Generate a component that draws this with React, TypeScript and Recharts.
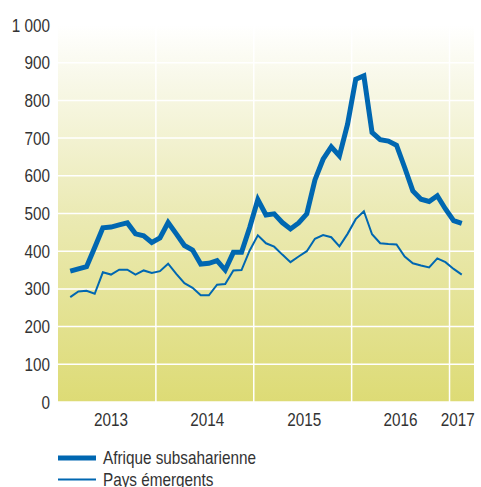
import React from "react"
import {
  LineChart,
  Line,
  XAxis,
  YAxis,
  CartesianGrid,
} from "recharts"

// monthly points, Feb 2013 -> Feb 2017 (month index from Jan 2013)
const monthIndex = [
  1, 2, 3, 4, 5, 6, 7, 8, 9, 10, 11, 12, 13, 14, 15, 16, 17, 18, 19, 20, 21, 22, 23, 24, 25,
  26, 27, 28, 29, 30, 31, 32, 33, 34, 35, 36, 37, 38, 39, 40, 41, 42, 43, 44, 45, 46, 47, 48, 49,
]

const afrique = [
  347, 353, 359, 410, 462, 464, 470, 475, 446, 441, 423, 435, 476, 446, 415, 403, 366, 368, 375,
  350, 397, 397, 463, 537, 496, 499, 476, 459, 475, 499, 589, 644, 677, 653, 737, 856, 865, 715,
  696, 692, 681, 622, 560, 538, 532, 547, 512, 481, 474,
]

const emergents = [
  278, 293, 295, 287, 344, 338, 351, 351, 338, 349, 342, 347, 367, 340, 315, 303, 283, 283, 311,
  313, 349, 350, 402, 442, 421, 412, 391, 371, 386, 400, 433, 443, 437, 413, 446, 485, 506, 445,
  421, 419, 418, 386, 368, 362, 357, 381, 371, 353, 338,
]

const yearLabels = ["2013", "2014", "2015", "2016", "2017"]
const yearLabelPos = [6.5, 18.3, 30.2, 42, 49]
const yearBounds = [12, 24, 36, 48]
const yTicks = [0, 100, 200, 300, 400, 500, 600, 700, 800, 900, 1000]

const legendItems = [
  { label: "Afrique subsaharienne", w: 5 },
  { label: "Pays émergents", w: 2 },
]

const BLUE = "#0067b1"
const TEXT = "#333333"
const FONT = "'Liberation Sans', Arial, sans-serif"
// condensed look: squeeze the regular face horizontally
const SQUEEZE = 0.85

const data = monthIndex.map((m, i) => ({
  m: m + 0.5,
  afrique: afrique[i],
  emergents: emergents[i],
}))

const fmtY = (v: number) => (v >= 1000 ? `${Math.floor(v / 1000)} ${String(v % 1000).padStart(3, "0")}` : String(v))
const fmtX = (v: number) => yearLabels[yearLabelPos.indexOf(v)] ?? ""

const YTick = (props: any) => {
  const { x, y, payload } = props
  return (
    <g transform={`translate(${x},${y})`}>
      <text transform={`scale(${SQUEEZE},1)`} textAnchor="end" dy={6.5} fill={TEXT} fontSize={18} fontFamily={FONT}>
        {fmtY(payload.value)}
      </text>
    </g>
  )
}

const XTick = (props: any) => {
  const { x, y, payload } = props
  return (
    <g transform={`translate(${x},${y})`}>
      <text transform={`scale(${SQUEEZE},1)`} textAnchor="middle" dy={16} fill={TEXT} fontSize={18} fontFamily={FONT}>
        {fmtX(payload.value)}
      </text>
    </g>
  )
}

const LegendBox = () => (
  <svg width={481} height={40} style={{ position: "absolute", left: 0, top: 447, display: "block" }}>
    {legendItems.map((it, i) => (
      <g key={it.label} transform={`translate(58,${11 + i * 21.5})`}>
        <line x1={0} x2={38} y1={0} y2={0} stroke={BLUE} strokeWidth={it.w} />
        <text x={45 / SQUEEZE} y={6.3} transform={`scale(${SQUEEZE},1)`} fill={TEXT} fontSize={18} fontFamily={FONT}>
          {it.label}
        </text>
      </g>
    ))}
  </svg>
)

export default function App() {
  return (
    <div style={{ position: "relative", width: 481, height: 487, background: "#fff", overflow: "hidden" }}>
      <style>{`body{margin:0}`}</style>
      <LineChart
        width={481}
        height={487}
        data={data}
        margin={{ top: 25, right: 7, left: 0, bottom: 55 }}
      >
        <defs>
          <linearGradient id="bg" x1="0" y1="0" x2="0" y2="1">
            <stop offset="0%" stopColor="#ffffff" />
            <stop offset="15%" stopColor="#f8f8e8" />
            <stop offset="50%" stopColor="#ebeab4" />
            <stop offset="100%" stopColor="#dddb75" />
          </linearGradient>
        </defs>
        <CartesianGrid
          fill="url(#bg)"
          stroke="#ffffff"
          strokeWidth={1.5}
          verticalValues={yearBounds}
          horizontalValues={yTicks}
        />
        <XAxis
          type="number"
          dataKey="m"
          domain={[0, 51]}
          ticks={yearLabelPos}
          tick={<XTick />}
          axisLine={false}
          tickLine={false}
          height={30}
          interval={0}
        />
        <YAxis
          domain={[0, 1000]}
          ticks={yTicks}
          tick={<YTick />}
          axisLine={false}
          tickLine={false}
          width={58}
          interval={0}
        />
        <Line
          dataKey="emergents"
          stroke={BLUE}
          strokeWidth={2}
          dot={false}
          isAnimationActive={false}
        />
        <Line
          dataKey="afrique"
          stroke={BLUE}
          strokeWidth={5}
          dot={false}
          isAnimationActive={false}
        />
      </LineChart>
      <LegendBox />
    </div>
  )
}
